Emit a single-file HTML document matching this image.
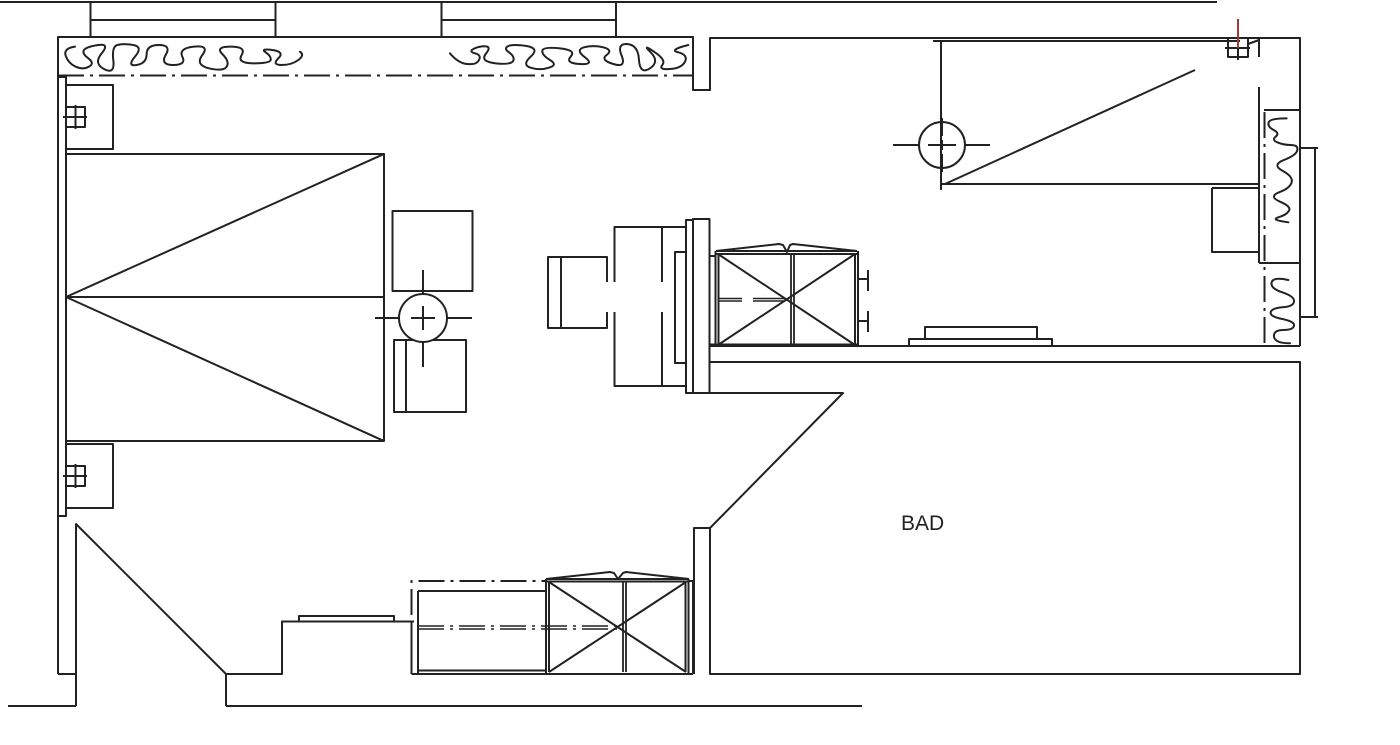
<!DOCTYPE html>
<html><head><meta charset="utf-8"><title>Floor plan</title>
<style>html,body{margin:0;padding:0;background:#fff}svg{display:block}</style></head>
<body>
<svg xmlns="http://www.w3.org/2000/svg" width="1400" height="745" viewBox="0 0 1400 745">
<rect width="1400" height="745" fill="#fff"/>
<g fill="none" stroke="#222" stroke-width="2" stroke-linejoin="round">
<!-- top outside -->
<path d="M0 2H1217M90.5 2V37M275.5 2V37M90.5 20H275.5M441.5 2V37M616 2V37M441.5 20H616"/>
<!-- top wall and left wall -->
<path d="M58 674V37H693V90H710V38H1300V346M58 674H76M76 706V524L226 674V706M8 706H76M226 706H862M226 674H282V621.5H414"/>
<path d="M299 621V616H394V621"/>
<path d="M58 75.500H693" stroke-dasharray="26 6 3 6"/>
<path d="M58 77H66V516H58"/>
<!-- bedside top -->
<path d="M66 85H113V149H66M66 107H85V127H66M63 117H87M75.500 105V129"/>
<path d="M66 444H113V508H66M66 466H85V486H66M63 476H87M75.500 464V488"/>
<!-- bed -->
<path d="M66 154H384V441H66M66 297H384M384 154L66 297L384 441"/>
<!-- chairs and table -->
<path d="M392.500 211H472.500V291H392.500Z"/>
<path d="M394 340H466V412H394ZM406 340V412"/>
<circle cx="423" cy="318" r="24" fill="#fff"/>
<path d="M375 318H399M411 318H435M447 318H472M423 270V293M423 306V330M423 342V367"/>
<!-- desk and chair -->
<path d="M607 282V257H548V328H607V312M561 257V328"/>
<path d="M614.500 282V227H686M614.500 312V386H686M662 227V282M662 312V386"/>
<path d="M686 252H675V363H686"/>
<path d="M686 220H693V393H686ZM693 219H709.500V393H693Z"/>
<!-- right wall below -->
<path d="M710 346H1300M710 362H1300V674H710V528H694V674M710 393H843L710 528"/>
<!-- dresser -->
<path d="M909 346V339H1052V346M925 339V327H1037V339"/>
<!-- wardrobe right -->
<path d="M716 251H857M716 254H857M715.500 251V346M718.500 254V345M855 254V345M858 251V346M710 344.500H858M710 256H715"/>
<path d="M791 254V345M794 254V345" stroke-width="1.800"/>
<path d="M718 254L855 345M855 254L718 345"/>
<path d="M716 251L779 244L783 245L787 252L790 245L793 244L857 251"/>
<path d="M718 298.500H742M718 301H742M753 298.500H785M753 301H785" stroke-width="1.500"/>
<path d="M858 279H868M868 270V291M858 321H868M868 311V332"/>
<!-- wardrobe bottom -->
<path d="M546 579H689M546 581.500H689M546 579V674M549 581V672M685.500 581V672M688.500 579V674M693 580V674M411.500 674H693M418 670.500H546M411.500 621V674M418 591H546M418 591V674M689 581H694"/>
<path d="M623 581V672M626 581V672" stroke-width="1.800"/>
<path d="M549 582L686 672M686 582L549 672"/>
<path d="M546 579L610 572L614 573L618 579L623 573L626 572L689 579"/>
<path d="M411.500 615V581H546" stroke-dasharray="26 6 3 6"/>
<path d="M418 626H618M418 629H618" stroke-dasharray="26 6 3 6" stroke-width="1.500"/>
<!-- upper right room -->
<path d="M941 41V190M933 41H1240M945 184L1195 70M941 184H1259"/>
<circle cx="942" cy="145" r="23"/>
<path d="M893 145H920M928 145H956M964 145H990M942 118V136M942 140V150M942 154V172"/>
<path d="M1228 38H1248V57H1228ZM1225 48H1250M1238 38V60M1248 44L1259 40M1259 38V57M1259 87V263"/>
<path d="M1238 19V48" stroke="#a33a3a"/>
<path d="M1264 110H1299M1259 263H1299M1212 188H1259M1212 188V252H1259"/>
<path d="M1264.500 112V346" stroke-dasharray="26 6 3 6"/>
<path d="M1299 148H1318M1315 148V317M1299 317H1318"/>
<!-- curtains -->
<g transform="translate(40,0) scale(0.3333)" stroke-width="6" stroke-linecap="round">
<path d="M105 140 Q70 145 77 167 Q85 190 107 200 Q130 210 147 200 Q165 190 145 175 Q125 160 132 150 Q140 140 175 135 Q210 130 185 160 Q160 190 192 207 Q225 225 220 182 Q215 140 232 135 Q250 130 280 135 Q310 140 285 170 Q260 200 290 195 Q320 190 320 162 Q320 135 357 135 Q395 135 377 165 Q360 195 400 195 Q440 195 427 170 Q415 145 462 140 Q510 135 487 165 Q465 195 507 205 Q550 215 560 200 Q570 185 547 162 Q525 140 572 140 Q620 140 605 165 Q590 190 640 190 Q690 190 692 180 Q695 170 677 157 Q660 145 697 150 Q735 155 715 175 Q695 195 725 195 Q755 195 775 180 Q795 165 780 155"/>
</g>
<g transform="translate(380,0) scale(0.3333)" stroke-width="6" stroke-linecap="round">
<path d="M210 160 Q235 190 262 192 Q290 195 297 180 Q305 165 285 160 Q265 155 282 146 Q300 138 317 139 Q335 140 317 162 Q300 185 347 190 Q395 195 400 182 Q405 170 387 157 Q370 145 385 138 Q400 132 440 138 Q480 145 452 170 Q425 195 452 203 Q480 212 507 203 Q535 195 510 180 Q485 165 487 152 Q490 140 540 145 Q590 150 572 170 Q555 190 600 192 Q645 195 615 172 Q585 150 612 142 Q640 135 670 142 Q700 150 680 165 Q660 180 700 192 Q740 205 725 167 Q710 130 742 132 Q775 135 777 180 Q780 225 810 205 Q840 185 812 157 Q785 130 822 155 Q860 180 847 195 Q835 210 870 207 Q905 205 915 185 Q925 165 895 157 Q865 150 925 135"/>
</g>
<g transform="translate(1180,10) scale(0.3333)" stroke-width="6" stroke-linecap="round">
<path d="M320 325 Q270 325 266 337 Q262 350 281 360 Q300 370 287 380 Q275 390 292 397 Q310 405 332 405 Q355 405 352 420 Q350 435 312 450 Q275 465 307 482 Q340 500 335 517 Q330 535 297 547 Q265 560 300 575 Q335 590 327 602 Q320 615 295 622 Q270 630 325 637"/>
<path d="M325 810 Q280 800 275 817 Q270 835 307 847 Q345 860 342 875 Q340 890 307 892 Q275 895 272 907 Q270 920 307 927 Q345 935 342 947 Q340 960 310 960 Q280 960 282 980 Q285 1000 330 1000"/>
</g>
</g>
<text x="901" y="530" font-family="'Liberation Sans',sans-serif" font-size="21" fill="#222">BAD</text>
</svg>
</body></html>
